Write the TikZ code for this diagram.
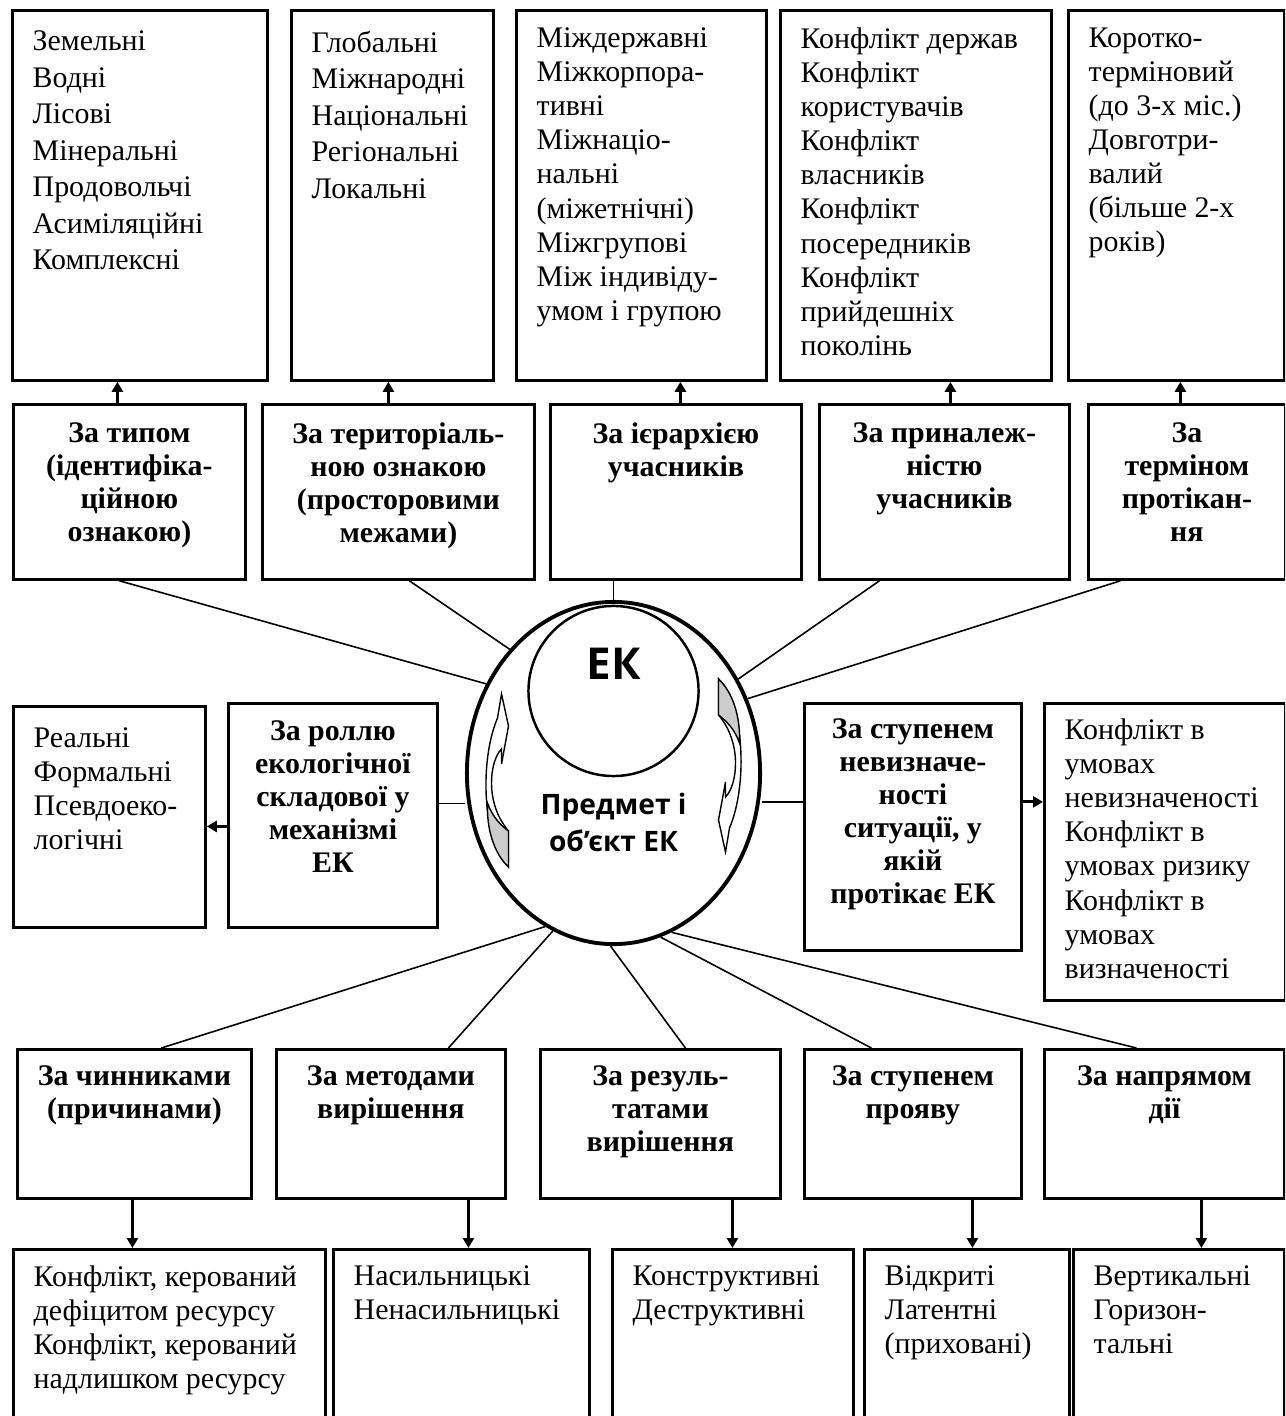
\documentclass[tikz,border=0pt]{standalone}
\usepackage{fontspec}
\setmainfont{Liberation Serif}
\newfontfamily\ekfont{Open Sans}
\usetikzlibrary{shapes.geometric,arrows.meta}

\tikzstyle{result box}=[draw,line width=0.8pt,anchor=north west,inner sep=0pt]
\tikzstyle{result text}=[anchor=north west,inner sep=0pt,align=left]
\tikzstyle{class text}=[anchor=north,inner sep=0pt,align=center,font=\fontsize{8.5}{9.4}\selectfont\bfseries]
\tikzstyle{ek link}=[draw,line width=0.45pt,-]
\tikzstyle{ek arrow}=[draw,line width=0.9pt,-{Triangle[length=0.1cm,width=0.11cm]}]
\tikzstyle{twist}=[draw,line width=0.4pt,fill=white]
\tikzstyle{twist back}=[draw,line width=0.4pt,fill=black!20]
\tikzset{twist front path/.style={insert path={(-112,-79) -- (-105,-47) -- (-112,-9) -- (-112,-24)
      .. controls (-124,-12) and (-129,30) .. (-105,58) -- (-105,94)
      .. controls (-130,70) and (-135,-10) .. (-116,-55) -- cycle}},
  twist back path/.style={insert path={(-105,58) -- (-105,94)
      .. controls (-120,80) and (-127,55) .. (-126,30)
      .. controls (-121,44) and (-113,52) .. (-105,58) -- cycle}}}

\begin{document}
\begin{tikzpicture}[x=0.01cm,y=-0.01cm]
    \useasboundingbox (0,0) rectangle (1285,1416);
    \clip (0,0) rectangle (1285,1416);
    \foreach \x/\y/\w/\h/\name in {11/9/255/370/r1, 290/9/202/370/r2, 515/9/250/370/r3,
                                  779/9/271/370/r4, 1067/9/216/370/r5,
                                  12/403/232/175/c1, 261/403/272/175/c2, 549/403/251/175/c3,
                                  818/403/250/175/c4, 1087/403/197/175/c5,
                                  12/705/192/221/l1, 227/702/209/224/l2, 803/702/217/247/l3, 1043/702/241/297/l4,
                                  16/1048/234/149/b1, 275/1048/229/149/b2, 539/1048/240/149/b3,
                                  803/1048/217/149/b4, 1043/1048/240/149/b5,
                                  12/1248/312/200/d1, 332/1248/256/200/d2, 611/1248/241/200/d3,
                                  863/1248/205/200/d4, 1072/1248/211/200/d5}
        \node[result box,minimum width=\w*0.01cm,minimum height=\h*0.01cm] (\name) at (\x,\y) {};
    \foreach \name/\dy/\lsk/\txt in {r1/21/10.4/{Земельні\\Водні\\Лісові\\Мінеральні\\Продовольчі\\Асиміляційні\\Комплексні},
                                     r2/21/10.4/{Глобальні\\Міжнародні\\Національні\\Регіональні\\Локальні},
                                     r3/18/9.7/{Міждержавні\\Міжкорпора-\\тивні\\Міжнаціо-\\нальні\\(міжетнічні)\\Міжгрупові\\Між індивіду-\\умом і групою},
                                     r4/18/9.7/{Конфлікт держав\\Конфлікт\\користувачів\\Конфлікт\\власників\\Конфлікт\\посередників\\Конфлікт\\прийдешніх\\поколінь},
                                     r5/18/9.7/{Коротко-\\терміновий\\(до 3-х міс.)\\Довготри-\\валий\\(більше 2-х\\років)},
                                     l1/22/9.7/{Реальні\\Формальні\\Псевдоеко-\\логічні},
                                     l4/16/9.7/{Конфлікт в\\умовах\\невизначеності\\Конфлікт в\\умовах ризику\\Конфлікт в\\умовах\\визначеності},
                                     d1/17/9.7/{Конфлікт, керований\\дефіцитом ресурсу\\Конфлікт, керований\\надлишком ресурсу},
                                     d2/17/9.7/{Насильницькі\\Ненасильницькі},
                                     d3/17/9.7/{Конструктивні\\Деструктивні},
                                     d4/17/9.7/{Відкриті\\Латентні\\(приховані)},
                                     d5/17/9.7/{Вертикальні\\Горизон-\\тальні}}
        \node[result text,font=\fontsize{8.5}{\lsk}\selectfont] (\name t) at ([xshift=0.21cm,yshift=-\dy*0.01cm]\name.north west) {\txt};
    \foreach \name/\dy/\txt in {c1/19/{За типом\\(ідентифіка-\\ційною\\ознакою)},
                                c2/19/{За територіаль-\\ною ознакою\\(просторовими\\межами)},
                                c3/19/{За ієрархією\\учасників},
                                c4/19/{За приналеж-\\ністю\\учасників},
                                c5/19/{За\\терміном\\протікан-\\ня},
                                l2/18/{За роллю\\екологічної\\складової у\\механізмі\\ЕК},
                                l3/16/{За ступенем\\невизначе-\\ності\\ситуації, у\\якій\\протікає ЕК},
                                b1/17/{За чинниками\\(причинами)},
                                b2/17/{За методами\\вирішення},
                                b3/17/{За резуль-\\татами\\вирішення},
                                b4/17/{За ступенем\\прояву},
                                b5/17/{За напрямом\\дії}}
        \node[class text] (\name t) at ([yshift=-\dy*0.01cm]\name.north) {\txt};

    \node[ellipse,draw,line width=1.1pt,minimum width=2.93cm,minimum height=3.42cm,inner sep=0pt] (ek) at (613.5,773) {};
    \node[circle,draw,line width=0.7pt,minimum size=1.7cm,inner sep=0pt] (ekc) at (613.5,691) {};
    \node[font=\ekfont\bfseries\fontsize{12.5}{15}\selectfont,inner sep=0pt] (ekt) at (613.5,664) {ЕК};
    \node[font=\ekfont\bfseries\fontsize{8}{10.5}\selectfont,align=center,inner sep=0pt] (ekp) at (613.5,822) {Предмет і\\об’єкт ЕК};
    \begin{scope}[shift={(ek.center)}]
        \path[twist,twist front path];
        \path[twist back,twist back path];
    \end{scope}
    \begin{scope}[shift={(ek.center)},rotate=180]
        \path[twist,twist front path];
        \path[twist back,twist back path];
    \end{scope}

    \foreach \i/\dx/\a in {1/-10/145.7, 2/11/130.4, 4/-65/37.6, 5/-66.5/29.3}
        \path[ek link] ([xshift=\dx*0.01cm]c\i.south) -- (ek.\a);
    \path[ek link] (ek.north) -- (ek.north |- c3.south);
    \path[ek link] ([yshift=0.12cm]l2.east) -- ([yshift=0.12cm]l2.east -| ek.west);
    \path[ek link] ([yshift=0.25cm]l3.west) -- ([yshift=0.25cm]l3.west -| ek.east);
    \foreach \i/\dx/\a in {1/27/-114.4, 2/57.5/-111.3, 3/25/-91, 4/-41.5/-74.9, 5/-28/-70.7}
        \path[ek link] ([xshift=\dx*0.01cm]b\i.north) -- (ek.\a);

    \foreach \i/\dx in {1/-12, 2/-10, 3/4.5, 4/6, 5/-6.5}
        \path[ek arrow] ([xshift=\dx*0.01cm]c\i.north) -- ([xshift=\dx*0.01cm]c\i.north |- r\i.south);
    \foreach \i/\dx in {1/-2, 2/77.5, 3/72, 4/59.5, 5/37}
        \path[ek arrow] ([xshift=\dx*0.01cm]b\i.south) -- ([xshift=\dx*0.01cm]b\i.south |- d\i.north);
    \path[ek arrow] ([yshift=-0.11cm]l2.west) -- ([yshift=-0.11cm]l2.west -| l1.east);
    \path[ek arrow] ([yshift=0.25cm]l3.east) -- ([yshift=0.25cm]l3.east -| l4.west);
\end{tikzpicture}
\end{document}
